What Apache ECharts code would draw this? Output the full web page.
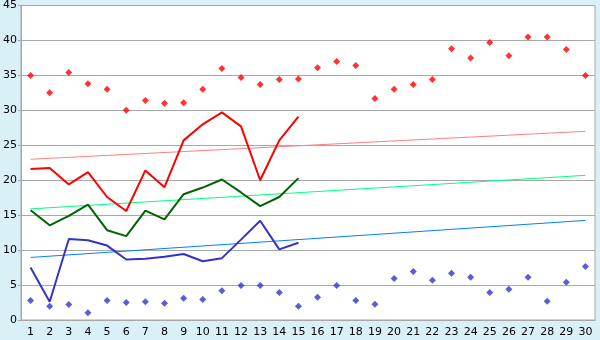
<!DOCTYPE html>
<html>
<head>
<meta charset="utf-8">
<style>html,body{margin:0;padding:0;background:#DAF0F7;}#c{width:600px;height:340px;}</style>
<script src="https://cdn.jsdelivr.net/npm/echarts@6/dist/echarts.min.js"></script>
</head>
<body>
<div id="c"></div>
<script>
var days = [];
for (var d = 1; d <= 30; d++) days.push(String(d));
var yTicks = [0, 45, 5];

var maxPoints = [35.0, 32.5, 35.4, 33.8, 33.0, 30.0, 31.4, 31.0, 31.1, 33.0,
                 36.0, 34.7, 33.7, 34.4, 34.5, 36.1, 37.0, 36.4, 31.7, 33.0,
                 33.7, 34.4, 38.8, 37.5, 39.7, 37.8, 40.5, 40.5, 38.7, 35.0];
var minPoints = [2.8, 1.95, 2.2, 1.05, 2.8, 2.5, 2.6, 2.4, 3.1, 2.95,
                 4.2, 4.95, 4.95, 3.95, 1.95, 3.25, 4.95, 2.8, 2.25, 5.95,
                 6.95, 5.7, 6.7, 6.1, 3.95, 4.4, 6.1, 2.7, 5.4, 7.65];
var maxLine = [21.6, 21.75, 19.4, 21.15, 17.6, 15.6, 21.4, 19.0, 25.7, 28.0,
               29.7, 27.7, 20.0, 25.7, 29.1];
var meanLine = [15.7, 13.55, 14.9, 16.5, 12.85, 12.0, 15.65, 14.4, 18.0, 18.95,
                20.1, 18.25, 16.3, 17.6, 20.3];
var minLine = [7.5, 2.6, 11.6, 11.4, 10.65, 8.65, 8.75, 9.05, 9.45, 8.4,
               8.85, 11.5, 14.2, 10.1, 11.05];
var maxTrend = [['1', 23.0], ['30', 27.0]];
var meanTrend = [['1', 15.9], ['30', 20.7]];
var minTrend = [['1', 8.95], ['30', 14.25]];

var chart = echarts.init(document.getElementById('c'));
var font = 'DejaVu Sans';
var marker = 'diamond';
chart.setOption({
  backgroundColor: '#DAF0F7',
  animation: false,
  grid: {left: 20, right: 5, top: 5, bottom: 20, show: true, backgroundColor: '#ffffff', borderColor: '#A8A8A8', borderWidth: 1},
  xAxis: {
    type: 'category', data: days, boundaryGap: true,
    axisLine: {lineStyle: {color: '#A8A8A8'}},
    axisTick: {alignWithLabel: true, length: 5, lineStyle: {color: '#A8A8A8'}},
    axisLabel: {color: '#000', fontFamily: font, fontSize: 11, margin: 7, interval: 0},
    splitLine: {show: false}
  },
  yAxis: {
    type: 'value', min: yTicks[0], max: yTicks[1], interval: yTicks[2],
    axisLine: {show: true, lineStyle: {color: '#A8A8A8'}},
    axisTick: {show: true, length: 3, lineStyle: {color: '#A8A8A8'}},
    axisLabel: {color: '#000', fontFamily: font, fontSize: 11, margin: 4},
    splitLine: {lineStyle: {color: '#A8A8A8', width: 1}}
  },
  series: [
    {type: 'line', data: maxTrend, symbol: 'none', lineStyle: {color: '#FF8080', width: 1}, z: 2},
    {type: 'line', data: meanTrend, symbol: 'none', lineStyle: {color: '#00FF80', width: 1}, z: 2},
    {type: 'line', data: minTrend, symbol: 'none', lineStyle: {color: '#0080FF', width: 1}, z: 2},
    {type: 'line', data: maxLine, symbol: 'none', lineStyle: {color: '#FF0000', width: 2}, z: 3},
    {type: 'line', data: meanLine, symbol: 'none', lineStyle: {color: '#006400', width: 2}, z: 3},
    {type: 'line', data: minLine, symbol: 'none', lineStyle: {color: '#3333CC', width: 2}, z: 3},
    {type: 'scatter', data: maxPoints, symbol: marker, symbolSize: 7, itemStyle: {color: '#FF0000'}, z: 4},
    {type: 'scatter', data: minPoints, symbol: marker, symbolSize: 7, itemStyle: {color: '#3333CC'}, z: 4}
  ]
});
</script>
</body>
</html>
